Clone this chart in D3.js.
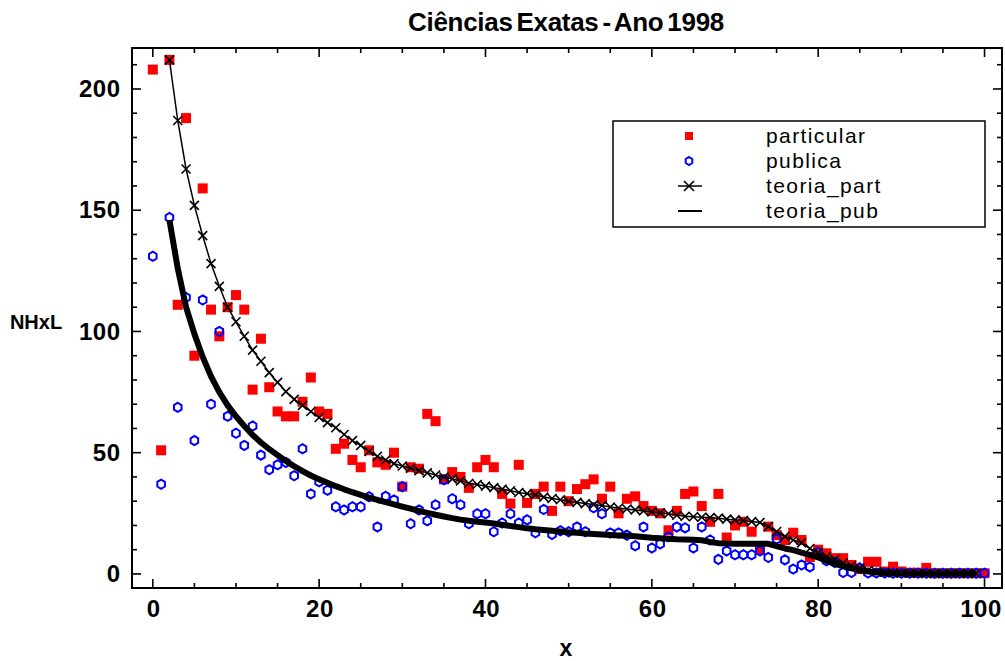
<!DOCTYPE html>
<html>
<head>
<meta charset="utf-8">
<script src="https://cdnjs.cloudflare.com/ajax/libs/d3/7.8.5/d3.min.js"></script>
<style>
body { margin: 0; background: #fff; }
svg { display: block; }
text { font-family: "Liberation Sans", Arial, sans-serif; }
</style>
</head>
<body>
<div id="chart"></div>
<script>

// particular: x = 0..100
var particular = [208, 51, 212, 111, 188, 90, 159, 109, 98, 110,
	115, 109, 76, 97, 77, 67, 65, 65, 71, 81,
	67, 66, 51.6, 53.7, 47, 44, 51, 46, 45, 50,
	36, 44, 43.4, 66, 63, 39, 42, 40, 35.5, 44,
	47, 44, 33, 29, 45, 29.3, 33, 36, 26, 36,
	30, 35, 37, 39, 31, 36, 25, 31, 32, 28,
	26, 25, 18, 26, 33, 34, 28, 21.5, 33, 15,
	20, 21.5, 17.4, 10, 19.5, 16, 14, 17, 14, 7,
	10, 8.5, 6.5, 6.5, 3.7, 2, 5, 5, 1, 3,
	1, 0.5, 0.5, 2.5, 0.3, 0.3, 0.3, 0.3, 0.3, 0.3, 0.3];

// publica: x = 0..100
var publica = [131, 37, 147, 68.7, 114, 55, 113, 70, 100, 65,
	58, 53, 61, 49, 43, 45, 46, 40.5, 51.6, 33,
	38, 34.5, 27.7, 26.4, 27.7, 27.7, 31.8, 19.4, 32, 30.5,
	36, 20.7, 26.4, 21.9, 28.5, 38.8, 31, 28.5, 20.7, 24.8,
	24.8, 17.4, 21, 24.8, 21, 22.3, 17, 26.6, 16.3, 17.8,
	17.4, 19.4, 17.4, 27.3, 24.8, 16.9, 16.9, 16, 11.6, 19.4,
	10.7, 12.4, 15.3, 19.4, 19, 10.7, 19.4, 14, 6, 9.5,
	7.9, 7.9, 7.9, 9.5, 6.8, 14.4, 5.8, 2, 3.7, 2.9,
	9, 5.4, 4.7, 0.6, 0.6, 2.5, 0.4, 0.4, 0.4, 0.3,
	0.3, 0.3, 0.3, 0.3, 0.3, 0.3, 0.3, 0.3, 0.3, 0.3, 0.3];

// teoria_part: x = 2..100
var teoriaPart = [212, 187, 167, 152, 139.5, 128, 118.6, 110,
	104, 98, 92.3, 87.7, 83, 79, 75.2, 72, 69.5, 67,
	64.5, 62.4, 60.3, 57.5, 55, 53, 50.5, 48.5, 47, 45.5,
	44.5, 43.6, 42.6, 41.7, 40.8, 40, 39.2, 38.4, 37.4, 36.9,
	36.2, 35.6, 35, 34.3, 33.6, 33.1, 32.6, 31.7, 31.1, 30.6,
	30, 29.5, 29, 28.6, 28.2, 27.6, 27.2, 26.8, 26.4, 26,
	25.6, 25.2, 24.8, 24.2, 23.8, 23.6, 23.4, 23.2, 23, 22.6,
	22.3, 22, 21.6, 21.2, 19.5, 17.5, 15.5, 14, 12.8, 10.5,
	8.8, 7.2, 6, 4.5, 3.4, 2.4, 1.5, 1, 0.7, 0.4,
	0.3, 0.3, 0.2, 0.2, 0.2, 0.2, 0.2, 0.2, 0.2, 0.2];

// teoria_pub: x = 2..100
var teoriaPub = [146, 126, 110, 99, 89.5, 81.5, 75, 69.5,
	65, 61, 57.3, 54.2, 51.5, 49, 46.6, 44.4, 42.4, 40.6,
	39, 37.6, 36.2, 34.9, 33.7, 32.6, 31.5, 30.5, 29.6, 28.7,
	27.8, 26.9, 26, 25.2, 24.4, 23.7, 23, 22.4, 21.9, 21.5,
	21.2, 20.8, 20.3, 19.8, 19.3, 18.8, 18.4, 18.1, 17.8, 17.5,
	17.2, 17, 16.7, 16.5, 16.3, 16.1, 15.9, 15.7, 15.5, 15.2,
	14.9, 14.7, 14.5, 14.3, 14.2, 14.1, 13.9, 13.2, 12.7, 12.5,
	12.4, 12.4, 12.4, 12.4, 12.4, 11.5, 10.5, 9.8, 8.8, 7.9,
	6.8, 5.5, 4.2, 3.2, 2.3, 1.5, 1, 0.6, 0.4, 0.3,
	0.3, 0.2, 0.2, 0.2, 0.2, 0.2, 0.2, 0.2, 0.2, 0.2];

var xMajor = [0, 20, 40, 60, 80, 100];
var yMajor = [0, 50, 100, 150, 200];
var seriesNames = ['particular', 'publica', 'teoria_part', 'teoria_pub'];

var width = 1005, height = 661;
var padL = 132, padR = 1002, padT = 48, padB = 588;

var svg = d3.select('#chart').append('svg')
	.attr('width', width)
	.attr('height', height);

var x = d3.scaleLinear().domain([-2.5, 102.1]).range([padL, padR]);
var y = d3.scaleLinear().domain([-5.8, 216.9]).range([padB, padT]);

var xTicks = d3.range(0, 101, 5);
var yTicks = d3.range(0, 211, 10);

// tick labels through d3 axes, tick marks drawn inward on all four sides
var labelAxis = function(axis, tr, vals, pad) {
	var g = svg.append('g')
		.attr('transform', tr)
		.call(axis.tickValues(vals).tickSize(0).tickPadding(pad).tickFormat(d3.format('d')));
	g.select('.domain').remove();
	g.selectAll('text')
		.attr('fill', '#000')
		.style('font-size', '24px')
		.style('font-weight', 'bold')
		.style('letter-spacing', '0.5px');
	return g;
};

labelAxis(d3.axisBottom(x), 'translate(0,' + padB + ')', xMajor, 12)
	.selectAll('text').attr('dx', function(d) { return d === 100 ? '-4px' : '0.3px'; });
labelAxis(d3.axisLeft(y), 'translate(' + padL + ',0)', yMajor, 12)
	.selectAll('text').attr('dx', '0.5px');

var tickG = svg.append('g')
	.attr('stroke', '#000')
	.attr('stroke-width', 1.6);

xTicks.forEach(function(v) {
	var len = xMajor.indexOf(v) >= 0 ? 9 : 5;
	tickG.append('line').attr('x1', x(v)).attr('x2', x(v)).attr('y1', padB).attr('y2', padB - len);
	tickG.append('line').attr('x1', x(v)).attr('x2', x(v)).attr('y1', padT).attr('y2', padT + len);
});
yTicks.forEach(function(v) {
	var len = yMajor.indexOf(v) >= 0 ? 9 : 5;
	tickG.append('line').attr('y1', y(v)).attr('y2', y(v)).attr('x1', padL).attr('x2', padL + len);
	tickG.append('line').attr('y1', y(v)).attr('y2', y(v)).attr('x1', padR).attr('x2', padR - len);
});

svg.append('rect')
	.attr('x', padL).attr('y', padT)
	.attr('width', padR - padL).attr('height', padB - padT)
	.attr('fill', 'none').attr('stroke', '#000').attr('stroke-width', 2);

var hexPath = function(r) {
	var pts = d3.range(6).map(function(i) {
		var a = Math.PI / 3 * i;
		return [r * 0.95 * Math.sin(a), -r * Math.cos(a)];
	});
	return 'M' + pts.join('L') + 'Z';
};

var xMark = function(s) {
	return 'M' + (-s) + ',' + (-s) + 'L' + s + ',' + s + 'M' + (-s) + ',' + s + 'L' + s + ',' + (-s);
};

var plot = svg.append('g');

// particular
plot.selectAll('rect.part')
	.data(particular)
	.enter().append('rect')
	.classed('part', true)
	.attr('x', function(d, i) { return x(i) - 5; })
	.attr('y', function(d) { return y(d) - 5; })
	.attr('width', 10).attr('height', 10)
	.attr('fill', '#ff0000');

// publica
plot.selectAll('path.pub')
	.data(publica)
	.enter().append('path')
	.classed('pub', true)
	.attr('d', hexPath(4.6))
	.attr('transform', function(d, i) { return 'translate(' + x(i) + ',' + y(d) + ')'; })
	.attr('fill', 'none')
	.attr('stroke', '#0000ff')
	.attr('stroke-width', 2);

// teoria_part
var line = d3.line()
	.x(function(d, i) { return x(i + 2); })
	.y(function(d) { return y(d); });

plot.append('path')
	.datum(teoriaPart)
	.attr('d', line)
	.attr('fill', 'none')
	.attr('stroke', '#000')
	.attr('stroke-width', 1.5);

plot.selectAll('path.tp')
	.data(teoriaPart)
	.enter().append('path')
	.classed('tp', true)
	.attr('d', xMark(4.5))
	.attr('transform', function(d, i) { return 'translate(' + x(i + 2) + ',' + y(d) + ')'; })
	.attr('stroke', '#000')
	.attr('stroke-width', 1.6);

// teoria_pub
plot.append('path')
	.datum(teoriaPub)
	.attr('d', line)
	.attr('fill', 'none')
	.attr('stroke', '#000')
	.attr('stroke-width', 6)
	.attr('stroke-linejoin', 'round');

// legend
var lg = svg.append('g');
lg.append('rect')
	.attr('x', 613).attr('y', 121)
	.attr('width', 372).attr('height', 106)
	.attr('fill', '#fff').attr('stroke', '#000').attr('stroke-width', 1.5);

var rowY = [136, 161, 186, 211];
lg.append('rect')
	.attr('x', 685).attr('y', rowY[0] - 4)
	.attr('width', 8).attr('height', 8)
	.attr('fill', '#ff0000');
lg.append('path')
	.attr('d', hexPath(4))
	.attr('transform', 'translate(689,' + rowY[1] + ')')
	.attr('fill', 'none').attr('stroke', '#0000ff').attr('stroke-width', 2);
lg.append('path')
	.attr('d', 'M678,' + rowY[2] + 'L702,' + rowY[2])
	.attr('stroke', '#000').attr('stroke-width', 1.5);
lg.append('path')
	.attr('d', xMark(5))
	.attr('transform', 'translate(689,' + rowY[2] + ')')
	.attr('stroke', '#000').attr('stroke-width', 1.6);
lg.append('path')
	.attr('d', 'M678,' + rowY[3] + 'L702,' + rowY[3])
	.attr('stroke', '#000').attr('stroke-width', 2);

lg.selectAll('text')
	.data(seriesNames)
	.enter().append('text')
	.attr('x', 766)
	.attr('y', function(d, i) { return rowY[i] + 7; })
	.style('font-size', '21px')
	.style('letter-spacing', '1.4px')
	.text(function(d) { return d; });

// titles
svg.append('text')
	.attr('x', 566).attr('y', 31)
	.attr('text-anchor', 'middle')
	.style('font-size', '26px')
	.style('font-weight', 'bold')
	.style('letter-spacing', '-0.3px')
	.style('word-spacing', '-3px')
	.text('Ciências Exatas -  Ano 1998');

svg.append('text')
	.attr('x', 566).attr('y', 656)
	.attr('text-anchor', 'middle')
	.style('font-size', '23px')
	.style('font-weight', 'bold')
	.text('x');

svg.append('text')
	.attr('x', 36).attr('y', 329)
	.attr('text-anchor', 'middle')
	.style('font-size', '20px')
	.style('font-weight', 'bold')
	.text('NHxL');

</script>
</body>
</html>
